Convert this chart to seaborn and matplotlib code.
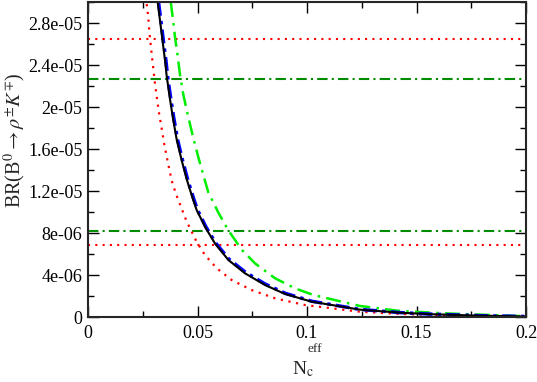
# Branching ratio of B0 -> rho K versus N_c^eff, with the experimental band lines
import numpy as np
import pandas as pd
import matplotlib
matplotlib.use("Agg")
import matplotlib.pyplot as plt
import seaborn as sns
from matplotlib.ticker import MultipleLocator

sns.set_style("ticks")
plt.rcParams['font.family'] = ['Liberation Serif', 'DejaVu Serif']
plt.rcParams['mathtext.fontset'] = 'stix'

# values
# black solid curve
x_black = [0.0318, 0.0329, 0.0341, 0.0352, 0.0359, 0.0374, 0.0389, 0.0405, 0.0428, 0.0451,
           0.0478, 0.0496, 0.0534, 0.0580, 0.0641, 0.0717, 0.0808, 0.0900, 0.1021, 0.1242,
           0.1425, 0.156, 0.18, 0.2]
y_black = [3.0e-5, 2.82e-5, 2.62e-5, 2.44e-5, 2.30e-5, 2.08e-5, 1.88e-5, 1.69e-5, 1.49e-5, 1.31e-5,
           1.13e-5, 1.02e-5, 8.6e-6, 7.0e-6, 5.43e-6, 4.16e-6, 3.05e-6, 2.19e-6, 1.46e-6, 0.70e-6,
           0.41e-6, 0.27e-6, 0.12e-6, 0.05e-6]

# blue dash-dot curve (almost on top of the black one)
x_blue = [0.0322, 0.0333, 0.0345, 0.0356, 0.0363, 0.0378, 0.0393, 0.0409, 0.0432, 0.0455,
          0.0482, 0.0500, 0.0538, 0.0583, 0.0644, 0.0720, 0.0810, 0.0902, 0.1022, 0.1242,
          0.1425, 0.156, 0.18, 0.2]
y_blue = [3.0e-5, 2.82e-5, 2.62e-5, 2.44e-5, 2.30e-5, 2.08e-5, 1.88e-5, 1.69e-5, 1.49e-5, 1.31e-5,
          1.13e-5, 1.02e-5, 8.6e-6, 7.05e-6, 5.5e-6, 4.25e-6, 3.13e-6, 2.25e-6, 1.50e-6, 0.72e-6,
          0.42e-6, 0.28e-6, 0.12e-6, 0.05e-6]

# red dotted curve
x_red = [0.0268, 0.0275, 0.0280, 0.0291, 0.0298, 0.0306, 0.0317, 0.0326, 0.0337, 0.0347,
         0.0359, 0.0371, 0.0382, 0.0402, 0.0451, 0.0496, 0.0534, 0.0588, 0.0656, 0.0747,
         0.0854, 0.0991, 0.1242, 0.1425, 0.165, 0.2]
y_red = [2.98e-5, 2.86e-5, 2.72e-5, 2.50e-5, 2.37e-5, 2.22e-5, 2.05e-5, 1.92e-5, 1.79e-5, 1.66e-5,
         1.53e-5, 1.41e-5, 1.30e-5, 1.17e-5, 9.08e-6, 7.17e-6, 5.90e-6, 4.64e-6, 3.52e-6, 2.57e-6,
         1.78e-6, 1.14e-6, 0.50e-6, 0.29e-6, 0.17e-6, 0.03e-6]

# light green dash-dot curve
x_lime = [0.0378, 0.0390, 0.0397, 0.0408, 0.0420, 0.0435, 0.0455, 0.0478, 0.0504, 0.0527,
          0.0549, 0.0595, 0.0641, 0.0702, 0.0763, 0.0854, 0.0945, 0.1029, 0.1242, 0.1425,
          0.165, 0.2]
y_lime = [3.0e-5, 2.80e-5, 2.67e-5, 2.51e-5, 2.31e-5, 2.12e-5, 1.93e-5, 1.73e-5, 1.52e-5, 1.35e-5,
          1.19e-5, 9.95e-6, 8.25e-6, 6.4e-6, 5.1e-6, 3.69e-6, 2.73e-6, 2.10e-6, 1.05e-6, 0.57e-6,
          0.33e-6, 0.07e-6]

# horizontal limits
red_limits = [2.645e-5, 6.86e-6]
green_limits = [2.27e-5, 8.22e-6]

fig = plt.figure(figsize=(5.37, 3.82), dpi=100)
ax = fig.add_axes([88/537, 65/382, 438/537, 315/382])

for val in red_limits:
    ax.axhline(val, color='#ff0000', lw=1.5, linestyle=(0, (1, 2.5)))
for val in green_limits:
    ax.axhline(val, color='#008c00', lw=1.5, linestyle=(0, (5, 2, 1, 2)))

sns.lineplot(x=x_red, y=y_red, ax=ax, color='#ff0000', lw=1.6, linestyle=(0, (1, 2.5)), sort=False)
sns.lineplot(x=x_lime, y=y_lime, ax=ax, color='#00ee00', lw=1.8, linestyle=(0, (6, 2.5, 1, 2.5)), sort=False)
sns.lineplot(x=x_blue, y=y_blue, ax=ax, color='#0000ff', lw=2.5, linestyle=(0, (4, 1.5, 1, 1.5)), sort=False)
sns.lineplot(x=x_black, y=y_black, ax=ax, color='black', lw=1.5, sort=False)

ax.set_xlim(0, 0.2)
ax.set_ylim(0, 3e-5)
ax.xaxis.set_minor_locator(MultipleLocator(0.025))
ax.yaxis.set_minor_locator(MultipleLocator(2e-6))
ax.set_xticks([0, 0.05, 0.1, 0.15, 0.2])
ax.set_xticklabels(['0', '0.05', '0.1', '0.15', '0.2'])
yt = [0, 4e-6, 8e-6, 1.2e-5, 1.6e-5, 2e-5, 2.4e-5, 2.8e-5]
ax.set_yticks(yt)
ax.set_yticklabels(['0', '4e-06', '8e-06', '1.2e-05', '1.6e-05', '2e-05', '2.4e-05', '2.8e-05'])

ax.tick_params(which='both', direction='in', top=True, right=True, labelsize=13, width=1, colors='black')
ax.tick_params(which='major', length=8)
ax.tick_params(which='minor', length=4)
ax.tick_params(axis='x', pad=6)
ax.tick_params(axis='y', pad=4)
for s in ax.spines.values():
    s.set_linewidth(1.5)

# axis titles
ax.set_ylabel(r'BR(B$^0$$\rightarrow\rho^{\pm}K^{\mp}$)', fontsize=14.5)
ax.yaxis.set_label_coords(-0.136, 0.562)
fig.text(292/537, 8/382, r'N$_{\rm c}$', fontsize=14, ha='left', va='baseline')
fig.text(307/537, 30/382, 'eff', fontsize=9.5, ha='left', va='baseline')

fig.savefig('out.png', dpi=100)
